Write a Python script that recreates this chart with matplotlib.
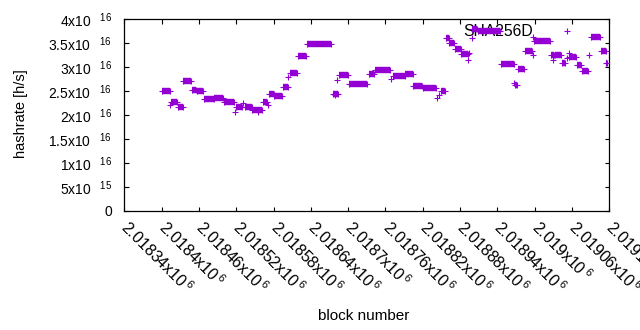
import matplotlib
matplotlib.use("Agg")
import matplotlib.pyplot as plt
import numpy as np
from matplotlib.lines import Line2D

# ---------------- data ----------------
# runs of consecutive blocks sharing the same hashrate (units of 1e16 h/s)
seg_start = [2018400, 2018415, 2018426, 2018435, 2018449, 2018457, 2018468, 2018485,
             2018500, 2018520, 2018534, 2018546, 2018563, 2018573, 2018581, 2018595,
             2018607, 2018619, 2018634, 2018676, 2018685, 2018701, 2018734, 2018743,
             2018772, 2018792, 2018805, 2018820, 2018849, 2018857, 2018863, 2018872,
             2018882, 2018899, 2018909, 2018946, 2018968, 2018973, 2018984, 2018999,
             2019026, 2019032, 2019044, 2019055, 2019068, 2019076, 2019091, 2019106,
             2019115]
seg_end = [2018414, 2018425, 2018434, 2018448, 2018456, 2018467, 2018484, 2018499,
           2018517, 2018529, 2018545, 2018562, 2018570, 2018580, 2018594, 2018603,
           2018618, 2018633, 2018673, 2018684, 2018700, 2018730, 2018742, 2018767,
           2018791, 2018804, 2018819, 2018841, 2018856, 2018862, 2018871, 2018881,
           2018893, 2018908, 2018945, 2018966, 2018972, 2018983, 2018996, 2019025,
           2019031, 2019043, 2019049, 2019067, 2019075, 2019086, 2019105, 2019114,
           2019117]
seg_rate = [2.49, 2.28, 2.17, 2.70, 2.53, 2.49, 2.33, 2.35,
            2.27, 2.17, 2.16, 2.10, 2.28, 2.44, 2.40, 2.58,
            2.87, 3.22, 3.47, 2.44, 2.83, 2.65, 2.86, 2.93,
            2.82, 2.85, 2.60, 2.56, 2.51, 3.60, 3.49, 3.38,
            3.27, 3.80, 3.74, 3.06, 2.62, 2.95, 3.33, 3.55,
            3.25, 3.24, 3.08, 3.21, 3.04, 2.91, 3.62, 3.34,
            3.09]
# isolated points
pt_block = [2018414, 2018518, 2018531, 2018555, 2018571, 2018604, 2018679, 2018682,
            2018769, 2018843, 2018846, 2018893, 2018895, 2018899, 2018967, 2018997,
            2018998, 2019030, 2019052, 2019055, 2019088]
pt_rate = [2.20, 2.07, 2.24, 2.06, 2.21, 2.80, 2.42, 2.73,
           2.74, 2.35, 2.42, 3.15, 3.29, 3.60, 2.66, 3.26,
           3.62, 3.15, 3.18, 3.30, 3.25]
series_name = "SHA256D"
rate_unit = 1e16

x_ticks = [2018340, 2018400, 2018460, 2018520, 2018580, 2018640, 2018700,
           2018760, 2018820, 2018880, 2018940, 2019000, 2019060, 2019120]
x_tick_mant = ["2.01834", "2.0184", "2.01846", "2.01852", "2.01858", "2.01864", "2.0187",
               "2.01876", "2.01882", "2.01888", "2.01894", "2.019", "2.01906", "2.01912"]
y_ticks = [0, 5e15, 1e16, 1.5e16, 2e16, 2.5e16, 3e16, 3.5e16, 4e16]
y_tick_mant = ["0", "5", "1", "1.5", "2", "2.5", "3", "3.5", "4"]
y_tick_exp = [None, "15", "16", "16", "16", "16", "16", "16", "16"]

# ---------------- style ----------------
plt.rcParams['font.family'] = ['Liberation Sans', 'DejaVu Sans']
plt.rcParams['mathtext.fontset'] = 'custom'
plt.rcParams['mathtext.rm'] = 'Liberation Sans'
plt.rcParams['mathtext.it'] = 'Liberation Sans'
plt.rcParams['mathtext.default'] = 'regular'


def sci(mant, exp, gap="\\quad\\,"):
    if exp is None:
        return mant
    return mant + "x10$^{" + gap + " " + exp + "}$"


color = "#9400d3"
ms = 5.0
mew = 0.8
blk_lw = 4.6

W, H = 640, 330
fig = plt.figure(figsize=(W / 100, H / 100), dpi=100)
L, R, T, B = 124.3, 609.3, 19, 211
ax = fig.add_axes([L / W, 1 - B / H, (R - L) / W, (B - T) / H])

seg_y = np.array(seg_rate) * rate_unit
for s, e, y in zip(seg_start, seg_end, seg_y):
    ax.plot([s, e], [y, y], color=color, lw=blk_lw, solid_capstyle='butt', zorder=3)
    ax.plot([s, e], [y, y], ls='none', marker='+', ms=ms, mew=mew, color=color, zorder=3)
ax.plot(pt_block, np.array(pt_rate) * rate_unit, ls='none', marker='+', ms=ms, mew=mew,
        color=color, zorder=3)

ax.set_xlim(2018340, 2019120)
ax.set_ylim(0, 4e16)

ax.set_yticks(y_ticks)
ax.set_yticklabels([sci(m, e) for m, e in zip(y_tick_mant, y_tick_exp)], fontsize=10)
ax.set_xticks(x_ticks)
ax.set_xticklabels([sci(m, "6", "\\:") for m in x_tick_mant], fontsize=11.5,
                   rotation=-45, ha='left', va='center', rotation_mode='anchor')
ax.tick_params(axis='both', direction='in', length=4.5 * 0.72, width=0.8,
               top=True, right=True, colors='black')
ax.tick_params(axis='y', pad=9.0)
ax.tick_params(axis='x', pad=9.5)
for sp in ax.spines.values():
    sp.set_linewidth(0.9)

fig.text(364 / W, 1 - 320.3 / H, "block number", ha='center', va='baseline',
         fontsize=11)
fig.text(25 / W, 1 - 113.4 / H, "hashrate [h/s]", ha='center', va='baseline',
         rotation=90, rotation_mode='anchor', fontsize=10.5)

handle = Line2D([], [], ls='none', marker='+', ms=ms, mew=mew, color=color)
leg = ax.legend([handle], [series_name], loc='center right',
                bbox_to_anchor=(582.4 / W, 1 - 31.5 / H), bbox_transform=fig.transFigure,
                frameon=False, markerfirst=False, handlelength=2.0, handletextpad=1.13,
                borderpad=0, borderaxespad=0, fontsize=11.3)
leg.set_zorder(1)

fig.savefig("out.png", dpi=100)
